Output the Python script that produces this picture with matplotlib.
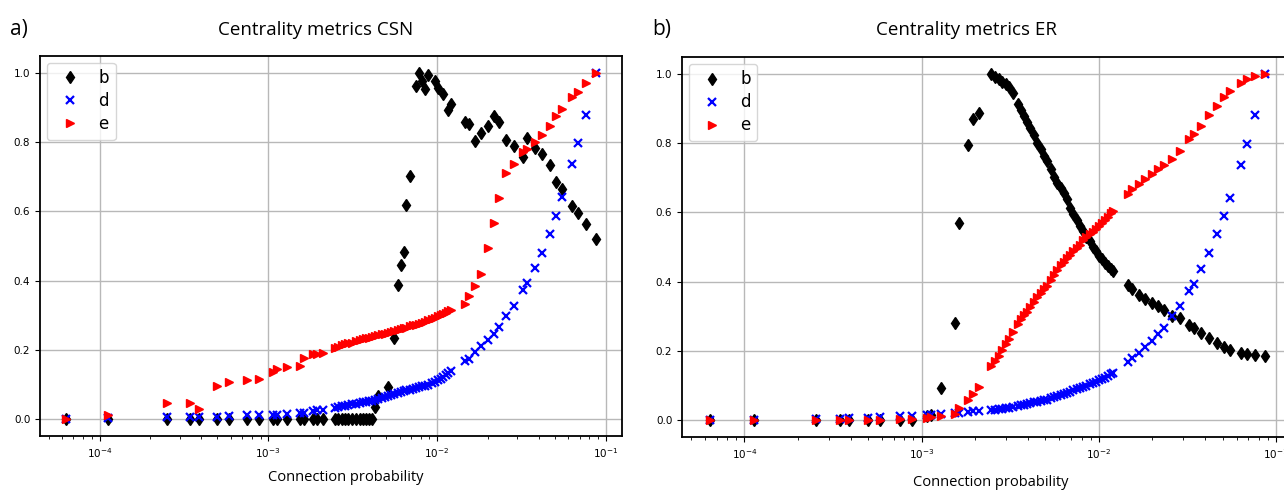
import numpy as np
import matplotlib
matplotlib.use("Agg")
import matplotlib.pyplot as plt

nan = np.nan

# --- x values: connection probability (shared by every series) ---
p_low = [6.37e-5, 1.125e-4, 2.52e-4, 3.44e-4, 3.91e-4, 4.99e-4, 5.83e-4, 7.53e-4, 8.79e-4,
         1.07e-3, 1.13e-3, 1.29e-3, 1.55e-3, 1.63e-3, 1.83e-3, 1.95e-3, 2.1e-3]
p_mid = [2.48e-3, 2.6e-3, 2.72e-3, 2.85e-3, 2.98e-3, 3.12e-3, 3.3e-3, 3.5e-3, 3.65e-3, 3.8e-3,
         3.95e-3, 4.1e-3, 4.3e-3, 4.5e-3, 4.7e-3, 4.9e-3, 5.1e-3, 5.35e-3, 5.6e-3, 5.85e-3,
         6.1e-3, 6.35e-3, 6.6e-3, 6.9e-3, 7.2e-3, 7.5e-3, 7.8e-3, 8.15e-3, 8.5e-3, 8.9e-3,
         9.3e-3, 9.7e-3, 1.01e-2, 1.05e-2, 1.09e-2, 1.13e-2, 1.17e-2, 1.21e-2]
p_high = [0.0146, 0.0155, 0.0169, 0.0183, 0.0200, 0.0217, 0.0234, 0.0258, 0.0286, 0.0323,
          0.0344, 0.0379, 0.0421, 0.0465, 0.0508, 0.0553, 0.0635, 0.0687, 0.0766, 0.0871]
conn_prob = p_low + p_mid + p_high

# --- CSN panel ---
csn_b = ([0.0] * 17 +
         [0, 0, 0, 0, 0, 0, 0, 0, 0, 0, 0, 0, 0.035, 0.065, nan, nan, 0.092, nan, 0.235, 0.387,
          0.444, 0.482, 0.62, 0.703, nan, 0.963, 1.0, 0.978, 0.955, 0.994, nan, 0.978, 0.958,
          nan, 0.939, nan, 0.895, 0.91] +
         [0.86, 0.852, 0.803, 0.828, 0.848, 0.875, 0.858, 0.807, 0.79, 0.758, 0.812, 0.785,
          0.766, 0.735, 0.685, 0.665, 0.615, 0.595, 0.565, 0.52])
csn_d = ([0.0, 0.002, 0.004, 0.004, 0.004, 0.006, 0.007, 0.01, 0.01, 0.012, 0.012, 0.014,
          0.016, 0.018, 0.021, 0.024, 0.026] +
         [0.032, 0.034, 0.036, 0.038, 0.04, 0.042, 0.044, 0.046, 0.047, 0.048, 0.05, 0.052,
          0.054, 0.057, 0.06, 0.064, 0.067, 0.069, 0.071, 0.074, 0.077, 0.08, 0.082, 0.084,
          0.087, 0.089, 0.091, 0.094, 0.096, 0.099, 0.103, 0.107, 0.112, 0.116, 0.121, 0.126,
          0.131, 0.137] +
         [0.167, 0.174, 0.193, 0.21, 0.227, 0.246, 0.266, 0.298, 0.326, 0.372, 0.394, 0.435,
          0.481, 0.535, 0.587, 0.643, 0.736, 0.799, 0.879, 1.0])
csn_e = ([0.0, 0.012, 0.045, 0.045, 0.028, 0.096, 0.105, 0.111, 0.115, 0.134, 0.144, 0.149,
          0.154, 0.176, 0.186, 0.188, 0.19] +
         [0.205, 0.208, 0.212, 0.215, 0.218, 0.22, 0.225, 0.228, 0.23, 0.233, 0.235, 0.237,
          0.24, 0.242, 0.244, 0.246, 0.247, 0.25, 0.253, 0.257, 0.26, 0.262, 0.264, 0.267,
          0.27, 0.272, 0.275, 0.278, 0.281, 0.285, 0.289, 0.292, 0.296, 0.299, 0.303, 0.307,
          0.312, 0.316] +
         [0.333, 0.356, 0.385, 0.419, 0.495, 0.566, 0.638, 0.711, 0.736, 0.772, 0.78, 0.80,
          0.821, 0.848, 0.877, 0.897, 0.932, 0.946, 0.971, 1.0])

# --- ER panel ---
er_b = ([0, 0, 0, 0, 0, 0, 0, 0, 0, 0.01, 0.015, 0.092, 0.28, 0.57, 0.794, 0.87, 0.889] +
        [1.0, 0.992, 0.985, 0.977, 0.971, 0.962, 0.945, 0.915, 0.898, 0.878, 0.862, 0.845,
         0.823, 0.80, 0.785, 0.762, 0.748, 0.725, 0.703, 0.684, 0.67, 0.657, 0.64, 0.612,
         0.595, 0.578, 0.56, 0.545, 0.53, 0.516, 0.50, 0.487, 0.474, 0.464, 0.454, 0.444,
         0.437, 0.43] +
        [0.391, 0.377, 0.362, 0.35, 0.338, 0.328, 0.319, 0.30, 0.295, 0.275, 0.266, 0.251,
         0.237, 0.222, 0.21, 0.203, 0.193, 0.191, 0.187, 0.184])
er_d = ([0.0, 0.0, 0.003, 0.003, 0.004, 0.006, 0.007, 0.01, 0.01, 0.014, 0.015, 0.016,
         0.019, 0.02, 0.023, 0.024, 0.026] +
        [0.028, 0.029, 0.03, 0.031, 0.033, 0.035, 0.037, 0.04, 0.042, 0.044, 0.046, 0.048,
         0.05, 0.052, 0.054, 0.056, 0.058, 0.062, 0.066, 0.069, 0.072, 0.075, 0.078, 0.081,
         0.085, 0.088, 0.091, 0.095, 0.098, 0.102, 0.106, 0.11, 0.114, 0.118, 0.122, 0.127,
         0.131, 0.136] +
        [0.166, 0.179, 0.193, 0.21, 0.229, 0.248, 0.266, 0.30, 0.328, 0.374, 0.394, 0.437,
         0.483, 0.538, 0.589, 0.643, 0.738, 0.797, 0.881, 1.0])
er_e = ([0, 0, 0, 0, 0, 0, 0, 0.002, 0.003, 0.005, 0.008, 0.012, 0.017, 0.034, 0.058, 0.074,
         0.095] +
        [0.156, 0.17, 0.185, 0.203, 0.218, 0.233, 0.255, 0.278, 0.292, 0.303, 0.312, 0.325,
         0.34, 0.355, 0.368, 0.378, 0.388, 0.405, 0.42, 0.434, 0.447, 0.457, 0.467, 0.478,
         0.488, 0.498, 0.507, 0.52, 0.528, 0.537, 0.543, 0.553, 0.562, 0.57, 0.578, 0.587,
         0.597, 0.604] +
        [0.652, 0.667, 0.681, 0.696, 0.71, 0.725, 0.736, 0.756, 0.778, 0.812, 0.826, 0.85,
         0.882, 0.908, 0.934, 0.952, 0.976, 0.986, 0.995, 1.0])

W, H = 1284, 490


def dibujar_panel(ax, b, d, e):
    ax.plot(conn_prob, b, linestyle='none', marker='d', color='black', markersize=6.5, label='b')
    ax.plot(conn_prob, d, linestyle='none', marker='x', color='blue', markersize=6,
            markeredgewidth=1.6, label='d')
    ax.plot(conn_prob, e, linestyle='none', marker='>', color='red', markersize=5.5, label='e')
    ax.set_xscale('log')
    ax.grid(True, color='#b8b8b8', linewidth=1)
    ax.tick_params(labelsize=7.5)
    for s in ax.spines.values():
        s.set_linewidth(1.3)
    ax.legend(loc='upper left', fontsize=12, labelspacing=0.3, handletextpad=0.7,
              borderaxespad=0.4)


fig = plt.figure(figsize=(W / 100, H / 100), dpi=100)

ax1 = fig.add_axes([40 / W, (H - 436) / H, 582 / W, 380 / H])
dibujar_panel(ax1, csn_b, csn_d, csn_e)

# right panel runs past the image edge, like the original crop
ax2 = fig.add_axes([682 / W, (H - 437) / H, 611 / W, 380 / H])
dibujar_panel(ax2, er_b, er_d, er_e)

tfont = 'Open Sans'
fig.text(10 / W, 1 - 30 / H, 'a)', fontsize=15, family=tfont, va='center', ha='left')
fig.text(652 / W, 1 - 30 / H, 'b)', fontsize=15, family=tfont, va='center', ha='left')
fig.text(316 / W, 1 - 30 / H, 'Centrality metrics CSN', fontsize=13.5, family=tfont,
         va='center', ha='center')
fig.text(966 / W, 1 - 30 / H, 'Centrality metrics ER', fontsize=13.5, family=tfont,
         va='center', ha='center')
fig.text(346 / W, 1 - 477 / H, 'Connection probability', fontsize=10.5, family=tfont,
         va='center', ha='center')
fig.text(991 / W, 1 - 482 / H, 'Connection probability', fontsize=10.5, family=tfont,
         va='center', ha='center')

fig.savefig('out.png', dpi=100)
